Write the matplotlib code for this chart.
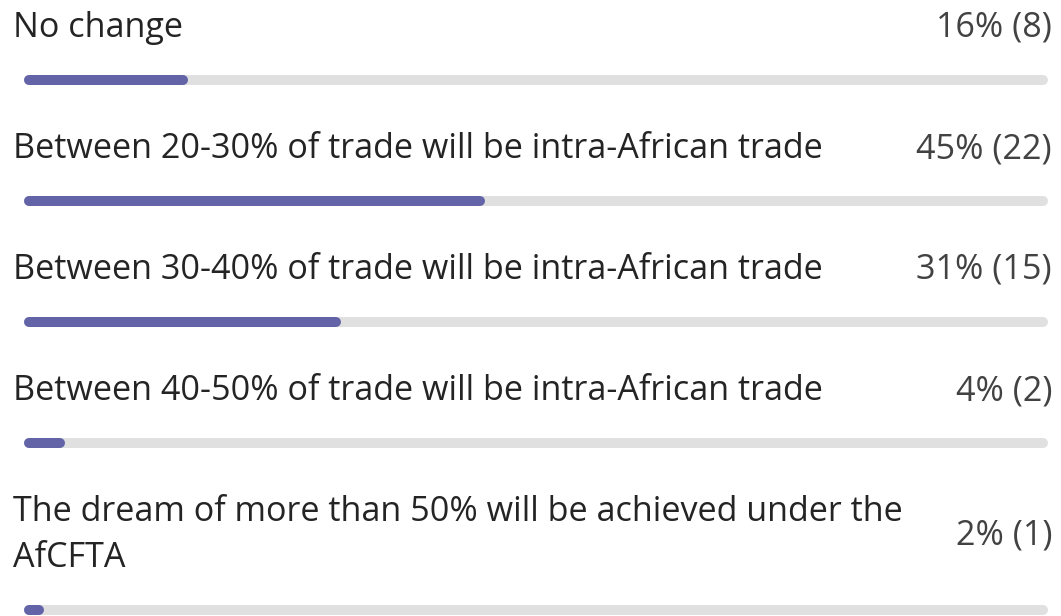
import matplotlib
matplotlib.use("Agg")
import matplotlib.pyplot as plt

labels = [
    "No change",
    "Between 20-30% of trade will be intra-African trade",
    "Between 30-40% of trade will be intra-African trade",
    "Between 40-50% of trade will be intra-African trade",
    "The dream of more than 50% will be achieved under the\nAfCFTA",
]
percents = [16, 45, 31, 4, 2]
counts = [8, 22, 15, 2, 1]

W, H = 1061, 616
fig = plt.figure(figsize=(W / 100, H / 100), dpi=100)
fig.patch.set_facecolor("white")
ax = fig.add_axes([0, 0, 1, 1])
ax.set_xlim(0, W)
ax.set_ylim(H, 0)
ax.axis("off")

FONT = "Open Sans"
FS = 24.6
track_left, track_right = 24, 1048
bar_h = 10
cap = bar_h / 2
label_col = "#242424"
pct_col = "#424242"
fill_col = "#6264A7"
track_col = "#E0E0E0"

row_tops = [0, 121, 242, 363, 484]
for i, (lab, p, c) in enumerate(zip(labels, percents, counts)):
    top = row_tops[i]
    lines = lab.split("\n")
    nlines = len(lines)
    base0 = top + 37
    for j, ln in enumerate(lines):
        ax.text(13, base0 + 46 * j, ln, fontsize=FS, family=FONT,
                color=label_col, ha="left", va="baseline")
    pct_base = base0 + 23 * (nlines - 1)
    ax.text(1052, pct_base, f"{p}% ({c})", fontsize=FS, family=FONT,
            color=pct_col, ha="right", va="baseline")
    bar_y = base0 + 46 * (nlines - 1) + 43
    lw = bar_h * 72 / 100
    span = track_right - track_left
    ax.plot([track_left + cap, track_right - cap], [bar_y, bar_y], color=track_col,
            lw=lw, solid_capstyle="round", zorder=1)
    end = track_left + span * p / 100
    ax.plot([track_left + cap, max(end - cap, track_left + cap + 0.5)], [bar_y, bar_y],
            color=fill_col, lw=lw, solid_capstyle="round", zorder=2)

fig.savefig("out.png", dpi=100, facecolor="white")
